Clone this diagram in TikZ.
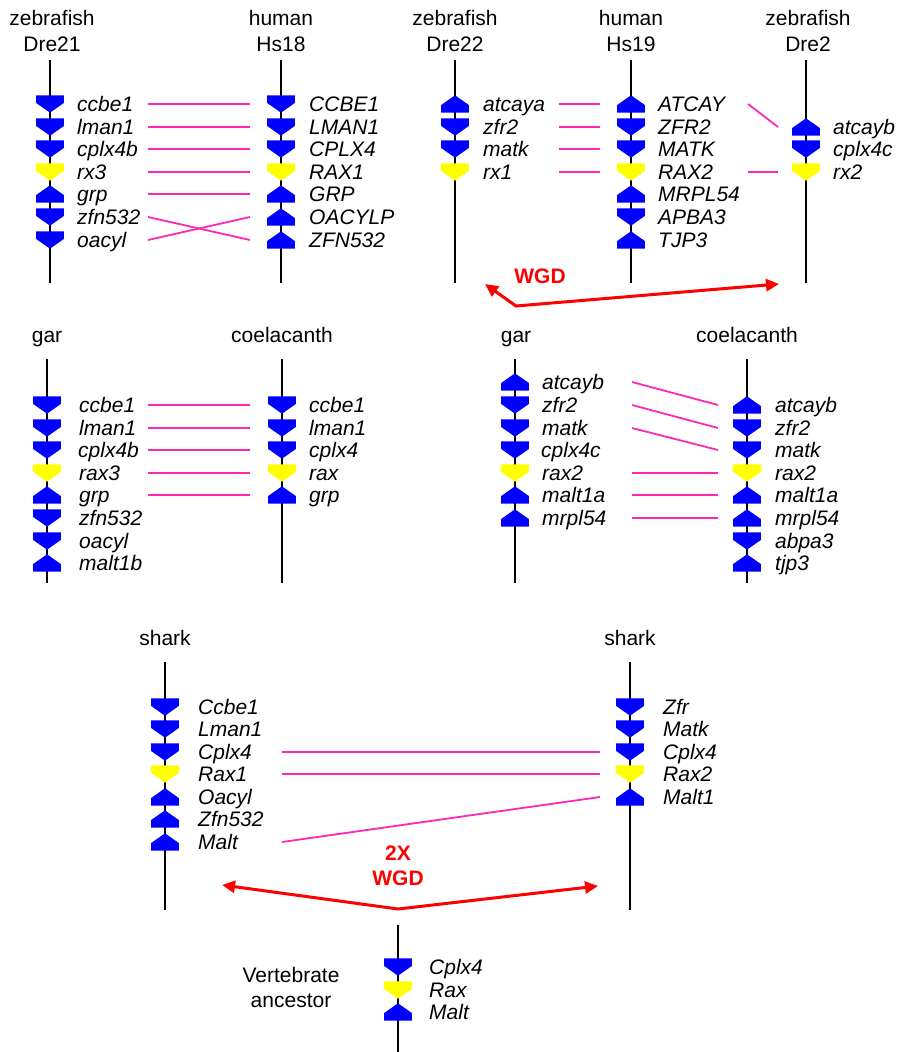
\documentclass[tikz,border=0pt]{standalone}
\usepackage{fontspec}
\setmainfont{Liberation Sans}
\usetikzlibrary{arrows.meta,calc}
\definecolor{gblue}{RGB}{0,0,255}
\definecolor{gyel}{RGB}{255,255,0}
\definecolor{gpink}{RGB}{255,40,180}
\definecolor{gred}{RGB}{255,0,0}
% gene: name, axis x, row y, dir (1 down / -1 up), colour, label x, text
\newcommand\gn[7]{%
  \begin{scope}[shift={(#2,#3)},yscale=#4]
    \fill[#5] (-13.8,-8.7) -- (13.8,-8.7) -- (13.8,-1) -- (0,8.7) -- (-13.8,-1) -- cycle;
  \end{scope}
  \node[glab] (#1) at (#6,#3+7.7) {#7};}
% link: name, x1,y1,x2,y2
\newcommand\lnk[5]{%
  \coordinate (#1s) at (#2,#3);
  \coordinate (#1e) at (#4,#5);
  \draw[link] (#1s) -- (#1e);}
\begin{document}
\begin{tikzpicture}[x=1pt,y=-1pt,
  axis/.style={line width=1.5pt,black},
  link/.style={line width=1.8pt,gpink},
  glab/.style={anchor=base west,inner sep=0pt,font=\fontsize{21}{25}\selectfont\itshape},
  hdr/.style={anchor=base,inner sep=0pt,font=\fontsize{21}{25}\selectfont},
  wgd/.style={line width=3pt,gred,line join=miter,{Triangle[length=13pt,width=12pt]}-{Triangle[length=13pt,width=12pt]}},
  wlab/.style={anchor=base,inner sep=0pt,text=gred,font=\fontsize{21}{25}\selectfont\bfseries},
]
\useasboundingbox (0,0) rectangle (897,1052);

% ---------- top-left: Dre21 vs Hs18
\node[hdr] (h1a) at (52,25) {zebrafish};
\node[hdr] (h1b) at (52,51) {Dre21};
\node[hdr] (h2a) at (281,25) {human};
\node[hdr] (h2b) at (281,51) {Hs18};
\draw[axis] (50,60) -- (50,283);
\draw[axis] (281,60) -- (281,283);
\gn{a1}{50}{104}{1}{gblue}{77}{ccbe1}
\gn{a2}{50}{127}{1}{gblue}{77}{lman1}
\gn{a3}{50}{149}{1}{gblue}{77}{cplx4b}
\gn{a4}{50}{172}{1}{gyel}{77}{rx3}
\gn{a5}{50}{194}{-1}{gblue}{77}{grp}
\gn{a6}{50}{217}{1}{gblue}{77}{zfn532}
\gn{a7}{50}{240}{1}{gblue}{77}{oacyl}
\gn{b1}{281}{104}{1}{gblue}{309}{CCBE1}
\gn{b2}{281}{127}{1}{gblue}{309}{LMAN1}
\gn{b3}{281}{149}{1}{gblue}{309}{CPLX4}
\gn{b4}{281}{172}{1}{gyel}{309}{RAX1}
\gn{b5}{281}{194}{-1}{gblue}{309}{GRP}
\gn{b6}{281}{217}{-1}{gblue}{309}{OACYLP}
\gn{b7}{281}{240}{-1}{gblue}{309}{ZFN532}
\lnk{ab1}{148}{104}{250}{104}
\lnk{ab2}{148}{127}{250}{127}
\lnk{ab3}{148}{149}{250}{149}
\lnk{ab4}{148}{172}{250}{172}
\lnk{ab5}{148}{194}{250}{194}
\lnk{ab6}{148}{217}{250}{240}
\lnk{ab7}{148}{240}{250}{217}

% ---------- top-right: Dre22, Hs19, Dre2
\node[hdr] (h3a) at (455,25) {zebrafish};
\node[hdr] (h3b) at (455,51) {Dre22};
\node[hdr] (h4a) at (631,25) {human};
\node[hdr] (h4b) at (631,51) {Hs19};
\node[hdr] (h5a) at (808,25) {zebrafish};
\node[hdr] (h5b) at (808,51) {Dre2};
\draw[axis] (455,60) -- (455,283);
\draw[axis] (631,60) -- (631,283);
\draw[axis] (806,60) -- (806,283);
\gn{c1}{455}{104}{-1}{gblue}{483}{atcaya}
\gn{c2}{455}{127}{1}{gblue}{483}{zfr2}
\gn{c3}{455}{149}{1}{gblue}{483}{matk}
\gn{c4}{455}{172}{1}{gyel}{483}{rx1}
\gn{d1}{631}{104}{-1}{gblue}{658}{ATCAY}
\gn{d2}{631}{127}{1}{gblue}{658}{ZFR2}
\gn{d3}{631}{149}{1}{gblue}{658}{MATK}
\gn{d4}{631}{172}{1}{gyel}{658}{RAX2}
\gn{d5}{631}{194}{-1}{gblue}{658}{MRPL54}
\gn{d6}{631}{217}{1}{gblue}{658}{APBA3}
\gn{d7}{631}{240}{-1}{gblue}{658}{TJP3}
\gn{e2}{806}{127}{-1}{gblue}{833}{atcayb}
\gn{e3}{806}{149}{1}{gblue}{833}{cplx4c}
\gn{e4}{806}{172}{1}{gyel}{833}{rx2}
\lnk{cd1}{559}{104}{600}{104}
\lnk{cd2}{559}{127}{600}{127}
\lnk{cd3}{559}{149}{600}{149}
\lnk{cd4}{559}{172}{600}{172}
\lnk{de1}{748}{104}{778}{127}
\lnk{de4}{748}{172}{778}{172}
\coordinate (w1l) at (485,284);
\coordinate (w1m) at (516,306);
\coordinate (w1r) at (779,284);
\draw[wgd] (w1l) -- (w1m) -- (w1r);
\node[wlab] (w1) at (540,283) {WGD};

% ---------- middle-left: gar vs coelacanth
\node[hdr] (h6) at (47,342) {gar};
\node[hdr] (h7) at (282,342) {coelacanth};
\draw[axis] (47,359) -- (47,583);
\draw[axis] (282,359) -- (282,583);
\gn{f1}{47}{405}{1}{gblue}{79}{ccbe1}
\gn{f2}{47}{428}{1}{gblue}{79}{lman1}
\gn{f3}{47}{450}{1}{gblue}{78}{cplx4b}
\gn{f4}{47}{473}{1}{gyel}{79}{rax3}
\gn{f5}{47}{495}{-1}{gblue}{79}{grp}
\gn{f6}{47}{518}{1}{gblue}{79}{zfn532}
\gn{f7}{47}{541}{1}{gblue}{79}{oacyl}
\gn{f8}{47}{563}{-1}{gblue}{79}{malt1b}
\gn{g1}{282}{405}{1}{gblue}{309}{ccbe1}
\gn{g2}{282}{428}{1}{gblue}{309}{lman1}
\gn{g3}{282}{450}{1}{gblue}{309}{cplx4}
\gn{g4}{282}{473}{1}{gyel}{309}{rax}
\gn{g5}{282}{495}{-1}{gblue}{309}{grp}
\lnk{fg1}{148}{405}{250}{405}
\lnk{fg2}{148}{428}{250}{428}
\lnk{fg3}{148}{450}{250}{450}
\lnk{fg4}{148}{473}{250}{473}
\lnk{fg5}{148}{495}{250}{495}

% ---------- middle-right: gar vs coelacanth
\node[hdr] (h8) at (516,342) {gar};
\node[hdr] (h9) at (747,342) {coelacanth};
\draw[axis] (515,359) -- (515,583);
\draw[axis] (747,359) -- (747,583);
\gn{i0}{515}{382}{-1}{gblue}{542}{atcayb}
\gn{i1}{515}{405}{1}{gblue}{542}{zfr2}
\gn{i2}{515}{428}{1}{gblue}{542}{matk}
\gn{i3}{515}{450}{1}{gblue}{541}{cplx4c}
\gn{i4}{515}{473}{1}{gyel}{542}{rax2}
\gn{i5}{515}{495}{-1}{gblue}{542}{malt1a}
\gn{i6}{515}{518}{-1}{gblue}{542}{mrpl54}
\gn{j1}{747}{405}{-1}{gblue}{775}{atcayb}
\gn{j2}{747}{428}{1}{gblue}{775}{zfr2}
\gn{j3}{747}{450}{1}{gblue}{775}{matk}
\gn{j4}{747}{473}{1}{gyel}{775}{rax2}
\gn{j5}{747}{495}{-1}{gblue}{775}{malt1a}
\gn{j6}{747}{518}{-1}{gblue}{775}{mrpl54}
\gn{j7}{747}{541}{1}{gblue}{775}{abpa3}
\gn{j8}{747}{563}{-1}{gblue}{775}{tjp3}
\lnk{ij1}{632}{382}{718}{405}
\lnk{ij2}{632}{405}{718}{428}
\lnk{ij3}{632}{428}{718}{450}
\lnk{ij4}{632}{473}{718}{473}
\lnk{ij5}{632}{495}{718}{495}
\lnk{ij6}{632}{518}{718}{518}

% ---------- bottom: sharks
\node[hdr] (h10) at (165,645) {shark};
\node[hdr] (h11) at (630,645) {shark};
\draw[axis] (165,662) -- (165,910);
\draw[axis] (630,662) -- (630,910);
\gn{k1}{165}{707}{1}{gblue}{198}{Ccbe1}
\gn{k2}{165}{729}{1}{gblue}{198}{Lman1}
\gn{k3}{165}{752}{1}{gblue}{198}{Cplx4}
\gn{k4}{165}{774}{1}{gyel}{198}{Rax1}
\gn{k5}{165}{797}{-1}{gblue}{198}{Oacyl}
\gn{k6}{165}{819}{-1}{gblue}{198}{Zfn532}
\gn{k7}{165}{842}{-1}{gblue}{198}{Malt}
\gn{m1}{630}{707}{1}{gblue}{663}{Zfr}
\gn{m2}{630}{729}{1}{gblue}{663}{Matk}
\gn{m3}{630}{752}{1}{gblue}{663}{Cplx4}
\gn{m4}{630}{774}{1}{gyel}{663}{Rax2}
\gn{m5}{630}{797}{-1}{gblue}{663}{Malt1}
\lnk{km3}{282}{752}{600}{752}
\lnk{km4}{282}{774}{600}{774}
\lnk{km7}{282}{842}{600}{797}
\coordinate (w2l) at (222,885);
\coordinate (w2m) at (398,909);
\coordinate (w2r) at (598,886);
\draw[wgd] (w2l) -- (w2m) -- (w2r);
\node[wlab] (w2a) at (398,860) {2X};
\node[wlab] (w2b) at (398,885) {WGD};

% ---------- vertebrate ancestor
\node[hdr] (h12a) at (291,982) {Vertebrate};
\node[hdr] (h12b) at (291,1007) {ancestor};
\draw[axis] (398,925) -- (398,1052);
\gn{n1}{398}{967}{1}{gblue}{429}{Cplx4}
\gn{n2}{398}{990}{1}{gyel}{429}{Rax}
\gn{n3}{398}{1012}{-1}{gblue}{429}{Malt}
\end{tikzpicture}
\end{document}
